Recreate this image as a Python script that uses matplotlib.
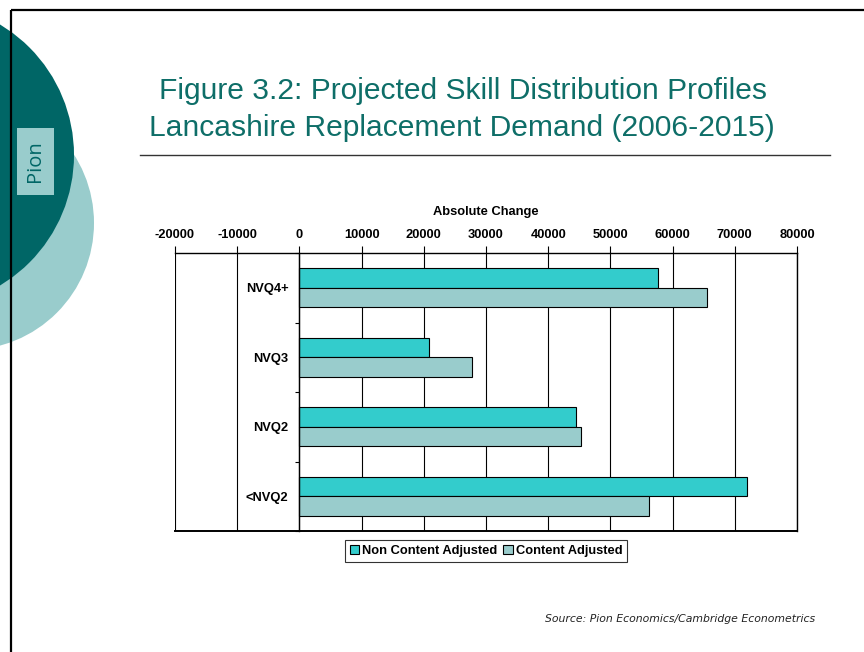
import matplotlib
matplotlib.use("Agg")
import matplotlib.pyplot as plt
from matplotlib.patches import Circle, Rectangle, Patch

# Skill levels and replacement demand (absolute change)
categories = ["NVQ4+", "NVQ3", "NVQ2", "<NVQ2"]
non_content_adjusted = [57700, 20900, 44400, 71900]
content_adjusted = [65600, 27800, 45200, 56200]
x_ticks = [-20000, -10000, 0, 10000, 20000, 30000, 40000, 50000, 60000, 70000, 80000]
series_names = ["Non Content Adjusted", "Content Adjusted"]

TEAL = "#33CCCC"
PALE = "#99CCCC"
DARK = "#006666"
TITLE_C = "#0E6E68"
FONT = "Liberation Sans"
LBL = dict(fontsize=9.3, fontweight="bold", family=FONT)

W, H = 864, 652
fig = plt.figure(figsize=(W / 100, H / 100), dpi=100)
fig.patch.set_facecolor("white")

# Slide background in pixel coordinates
bg = fig.add_axes([0, 0, 1, 1], zorder=0)
bg.set_xlim(0, W)
bg.set_ylim(H, 0)
bg.axis("off")
bg.add_patch(Circle((-33, 223), 127, color=PALE, lw=0))
bg.add_patch(Circle((-78, 155), 152, color=DARK, lw=0))
bg.add_patch(Rectangle((17, 128), 37, 67, color=PALE, lw=0))
bg.text(35.5, 161.5, "Pion", rotation=90, ha="center", va="center",
        fontsize=14.5, color=DARK, family="Open Sans")
bg.plot([11, 11], [10, H], color="black", lw=1.6, solid_capstyle="butt")
bg.plot([11, W], [10, 10], color="black", lw=1.6, solid_capstyle="butt")
bg.plot([140, 830], [155, 155], color="#333333", lw=1.0)

bg.text(463, 91, "Figure 3.2: Projected Skill Distribution Profiles", ha="center",
        va="center", fontsize=21.6, color=TITLE_C, family=FONT)
bg.text(462, 128, "Lancashire Replacement Demand (2006-2015)", ha="center",
        va="center", fontsize=21.6, color=TITLE_C, family=FONT)
bg.text(815, 619, "Source: Pion Economics/Cambridge Econometrics", ha="right",
        va="center", fontsize=7.8, style="italic", color="#222222", family="DejaVu Sans")

# Bar chart
ax = fig.add_axes([175 / W, 1 - 531 / H, (797 - 175) / W, (531 - 253) / H], zorder=2)
ax.set_facecolor("none")
ax.spines["left"].set_position(("data", 0))

ypos = list(range(len(categories)))
bh = 0.28
ax.barh([y - bh / 2 for y in ypos], non_content_adjusted, height=bh,
        color=TEAL, edgecolor="black", lw=0.8, zorder=3)
ax.barh([y + bh / 2 for y in ypos], content_adjusted, height=bh,
        color=PALE, edgecolor="black", lw=0.8, zorder=3)

ax.set_xlim(-20000, 80000)
ax.set_ylim(len(categories) - 0.5, -0.5)
ax.xaxis.tick_top()
ax.xaxis.set_label_position("top")
ax.set_xticks(x_ticks)
ax.set_xticklabels([str(t) for t in x_ticks], **LBL)
ax.tick_params(axis="x", direction="out", length=5, width=0.8, pad=3.5)
ax.set_xlabel("Absolute Change", labelpad=10.5, **LBL)
ax.grid(axis="x", color="black", lw=0.8, zorder=1)

ax.set_yticks(ypos)
ax.set_yticklabels(categories, **LBL)
ax.set_yticks([-0.5, 0.5, 1.5, 2.5, 3.5], minor=True)
ax.tick_params(axis="y", which="major", length=0, pad=8)
ax.tick_params(axis="y", which="minor", length=3, width=0.8, direction="out")

for s in ax.spines.values():
    s.set_color("black")
    s.set_linewidth(1.0)
    s.set_zorder(4)
ax.spines["bottom"].set_linewidth(1.4)

handles = [Patch(facecolor=TEAL, edgecolor="black", lw=0.8),
           Patch(facecolor=PALE, edgecolor="black", lw=0.8)]
leg = fig.legend(handles, series_names, loc="center", bbox_to_anchor=(486 / W, 1 - 551 / H),
                 ncol=2, frameon=True, fancybox=False, edgecolor="black",
                 handlelength=0.75, handleheight=0.75, handletextpad=0.25,
                 columnspacing=0.4, borderpad=0.35,
                 prop={"family": FONT, "weight": "bold", "size": 9.3})
leg.get_frame().set_linewidth(0.8)

fig.savefig("out.png", dpi=100)
